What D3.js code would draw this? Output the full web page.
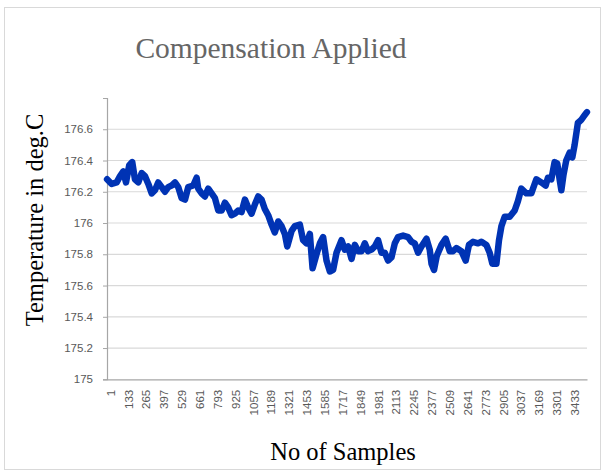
<!DOCTYPE html>
<html lang="en">
<head>
    <meta charset="UTF-8">
    <title>Compensation Applied</title>
    <style>
        body { margin: 0; background: #fff; }
        .chart-title { font-family: "Liberation Serif", "Times New Roman", serif; font-size: 29.5px; fill: #666; }
        .axis-title { font-family: "Liberation Serif", "Times New Roman", serif; font-size: 24.5px; fill: #000; }
        .tick-label { font-family: "Liberation Sans", Arial, sans-serif; font-size: 11.5px; fill: #595959; }
        .grid-line { stroke: #d9d9d9; stroke-width: 1.2px; }
        .axis-line { stroke: #a6a6a6; stroke-width: 1.2px; }
        .series { fill: none; stroke: #0033b4; stroke-width: 6.5px; stroke-linejoin: round; stroke-linecap: round; }
    </style>
</head>
<body>
    <svg id="chart" width="604" height="473"></svg>

    <script src="https://d3js.org/d3.v7.min.js"></script>
    <script>
        // --- Data ---
        const sampleCount = 3548;
        const sampleNo = [1, 35, 72, 97, 121, 141, 165, 187, 207, 232, 257, 281, 306, 331, 355, 379, 405, 429, 453, 478,
            503, 527, 552, 577, 601, 638, 663, 675, 700, 724, 749, 774, 798, 823, 848, 872, 896, 921, 946, 970,
            995, 1020, 1044, 1069, 1094, 1118, 1143, 1167, 1192, 1217, 1241, 1266, 1291, 1315, 1333, 1365, 1389, 1426, 1450, 1475,
            1500, 1520, 1549, 1574, 1598, 1623, 1648, 1672, 1697, 1734, 1758, 1783, 1808, 1832, 1857, 1882, 1906, 1930, 1956, 1980,
            2004, 2029, 2054, 2078, 2103, 2128, 2152, 2189, 2226, 2251, 2275, 2300, 2325, 2362, 2386, 2399, 2418, 2438, 2473, 2504,
            2534, 2558, 2583, 2620, 2652, 2676, 2706, 2743, 2768, 2805, 2829, 2849, 2879, 2898, 2916, 2940, 2977, 3014, 3038, 3063,
            3100, 3137, 3174, 3211, 3243, 3260, 3285, 3309, 3329, 3346, 3359, 3375, 3395, 3420, 3440, 3457, 3481, 3506, 3531, 3548];
        const temperature = [176.28, 176.25, 176.26, 176.30, 176.33, 176.26, 176.37, 176.39, 176.28, 176.26, 176.32, 176.30, 176.25, 176.19, 176.21, 176.26, 176.23, 176.20, 176.23, 176.24,
            176.26, 176.23, 176.16, 176.15, 176.23, 176.24, 176.29, 176.22, 176.19, 176.17, 176.22, 176.19, 176.16, 176.08, 176.08, 176.13, 176.10, 176.05, 176.06, 176.08,
            176.07, 176.15, 176.10, 176.06, 176.12, 176.17, 176.15, 176.09, 176.05, 175.99, 175.94, 176.01, 175.98, 175.93, 175.85, 175.95, 175.98, 175.99, 175.89, 175.87,
            175.93, 175.71, 175.80, 175.87, 175.91, 175.76, 175.69, 175.70, 175.81, 175.89, 175.83, 175.85, 175.77, 175.86, 175.82, 175.82, 175.87, 175.82, 175.83, 175.85,
            175.89, 175.81, 175.81, 175.76, 175.78, 175.87, 175.91, 175.92, 175.91, 175.88, 175.87, 175.81, 175.85, 175.90, 175.83, 175.74, 175.70, 175.79, 175.86, 175.90,
            175.82, 175.82, 175.84, 175.82, 175.76, 175.86, 175.88, 175.87, 175.88, 175.86, 175.81, 175.74, 175.74, 175.89, 175.98, 176.04, 176.04, 176.08, 176.14, 176.22,
            176.19, 176.19, 176.28, 176.26, 176.24, 176.29, 176.28, 176.39, 176.38, 176.28, 176.21, 176.31, 176.40, 176.45, 176.42, 176.50, 176.64, 176.66, 176.69, 176.71];
        const xTickLabels = [1, 133, 265, 397, 529, 661, 793, 925, 1057, 1189, 1321, 1453, 1585, 1717, 1849, 1981,
            2113, 2245, 2377, 2509, 2641, 2773, 2905, 3037, 3169, 3301, 3433];
        const yTickLabels = [175, 175.2, 175.4, 175.6, 175.8, 176, 176.2, 176.4, 176.6];

        const points = sampleNo.map((s, i) => ({ s: s, t: temperature[i] }));

        const svg = d3.select("#chart");
        const plot = { left: 107, right: 587, top: 98, bottom: 379.3 };

        // chart area border
        svg.append("rect")
            .attr("x", 4.5).attr("y", 7.5)
            .attr("width", 596).attr("height", 462)
            .attr("fill", "none").attr("stroke", "#d9d9d9");

        const x = d3.scaleLinear().domain([0.5, sampleCount + 0.5]).range([plot.left, plot.right]);
        const y = d3.scaleLinear().domain([175, 176.8]).range([plot.bottom, plot.top]);

        // horizontal grid lines
        svg.append("g")
            .selectAll("line")
            .data(yTickLabels.filter(d => d > 175))
            .enter().append("line")
            .attr("class", "grid-line")
            .attr("x1", plot.left).attr("x2", plot.right)
            .attr("y1", d => y(d)).attr("y2", d => y(d));

        // y axis
        const yAxis = svg.append("g")
            .attr("transform", `translate(${plot.left},0)`)
            .call(d3.axisLeft(y).tickValues(yTickLabels).tickSize(4).tickPadding(10).tickFormat(d3.format("")));
        yAxis.select(".domain").attr("class", "axis-line").attr("fill", "none");
        yAxis.selectAll(".tick line").attr("stroke", "#a6a6a6");
        yAxis.selectAll(".tick text").attr("class", "tick-label");

        // x axis
        const xAxis = svg.append("g")
            .attr("transform", `translate(0,${plot.bottom})`)
            .call(d3.axisBottom(x).tickValues(xTickLabels).tickSize(0).tickSizeOuter(0).tickFormat(d3.format("d")));
        xAxis.select(".domain").attr("class", "axis-line").attr("fill", "none");
        xAxis.selectAll(".tick text")
            .attr("class", "tick-label")
            .attr("transform", "rotate(-90)")
            .attr("text-anchor", "end")
            .attr("x", -10.5)
            .attr("y", 0)
            .attr("dy", "0.62em");

        // series line
        const line = d3.line()
            .x(d => x(d.s))
            .y(d => y(d.t));
        svg.append("path")
            .datum(points)
            .attr("class", "series")
            .attr("d", line);

        // titles
        svg.append("text")
            .attr("class", "chart-title")
            .attr("x", 271).attr("y", 58)
            .attr("text-anchor", "middle")
            .text("Compensation Applied");

        svg.append("text")
            .attr("class", "axis-title")
            .attr("text-anchor", "middle")
            .attr("transform", "translate(43,220) rotate(-90)")
            .text("Temperature in deg.C");

        svg.append("text")
            .attr("class", "axis-title")
            .attr("x", 343).attr("y", 460)
            .attr("text-anchor", "middle")
            .text("No of Samples");
    </script>
</body>
</html>
